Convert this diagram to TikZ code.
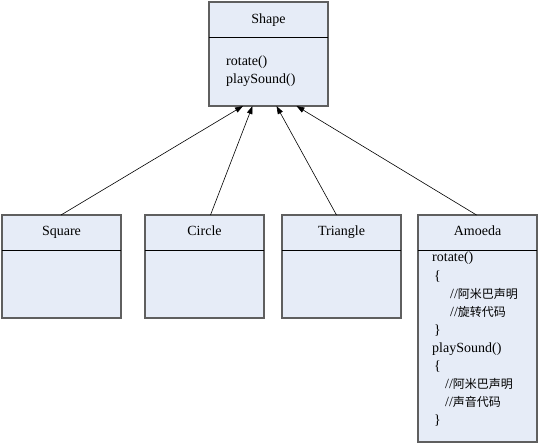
\documentclass[tikz,border=0pt]{standalone}
\usepackage{fontspec}
\setmainfont{Liberation Serif}
\newfontfamily\cjk{Noto Sans CJK SC}
\usetikzlibrary{arrows.meta}
\definecolor{boxfill}{HTML}{E6ECF7}
\definecolor{boxline}{HTML}{5F5F5F}
\newcommand{\cj}[1]{{\cjk\fontsize{12}{14}\selectfont #1}}
\begin{document}
\begin{tikzpicture}[x=1pt,y=-1pt,
  classbox/.style={draw=boxline, line width=1.5pt, fill=boxfill, anchor=north west, inner sep=0pt, outer sep=0pt, minimum width=119pt},
  divider/.style={draw=black, line width=0.8pt},
  title/.style={font=\fontsize{14}{16}\selectfont, inner sep=0pt, anchor=base},
  code/.style={font=\fontsize{14}{16}\selectfont, inner sep=0pt, anchor=base west},
  inherit/.style={-{Triangle[length=8pt,width=5.5pt]}, line width=0.6pt, draw=black}
]
\useasboundingbox (0,0) rectangle (555,446);

% boxes
\node[classbox, minimum height=104pt] (shape) at (209,2) {};
\node[classbox, minimum height=103pt] (square) at (2,215) {};
\node[classbox, minimum height=103pt] (circle) at (145,215) {};
\node[classbox, minimum height=103pt] (triangle) at (282,215) {};
\node[classbox, minimum height=227pt] (amoeda) at (418,215) {};

% dividers
\draw[divider] (209,37) -- (328,37);
\draw[divider] (2,250) -- (121,250);
\draw[divider] (145,250) -- (264,250);
\draw[divider] (282,250) -- (401,250);
\draw[divider] (418,250) -- (537,250);

% Shape texts
\node[title] (shapename) at (268.5,23.6) {Shape};
\node[code] (shaperot) at (226,66) {rotate()};
\node[code] (shapeplay) at (226,83.5) {playSound()};

% subclass titles
\node[title] (squarename) at (61.5,236) {Square};
\node[title] (circlename) at (204.5,236) {Circle};
\node[title] (trianglename) at (341.5,236) {Triangle};
\node[title] (amoedaname) at (477.5,236) {Amoeda};

% Amoeda code
\node[code] (a1) at (432,262) {rotate()};
\node[code] (a2) at (434,280.1) {\{};
\node[code] (a3) at (450,298.2) {//\cj{阿米巴声明}};
\node[code] (a4) at (450,316.3) {//\cj{旋转代码}};
\node[code] (a5) at (434,334.4) {\}};
\node[code] (a6) at (432,352.5) {playSound()};
\node[code] (a7) at (434,370.6) {\{};
\node[code] (a8) at (445,388.7) {//\cj{阿米巴声明}};
\node[code] (a9) at (445,406.8) {//\cj{声音代码}};
\node[code] (a10) at (434,424.9) {\}};

% arrow ends on Shape bottom
\coordinate (t1) at (243,106);
\coordinate (t2) at (252.5,106);
\coordinate (t3) at (276.5,106);
\coordinate (t4) at (296.5,106);
\coordinate (f1) at (61,215);
\coordinate (f2) at (210.5,215);
\coordinate (f3) at (336.5,215);
\coordinate (f4) at (476.5,215);

\draw[inherit] (f1) -- (t1);
\draw[inherit] (f2) -- (t2);
\draw[inherit] (f3) -- (t3);
\draw[inherit] (f4) -- (t4);
\end{tikzpicture}
\end{document}
